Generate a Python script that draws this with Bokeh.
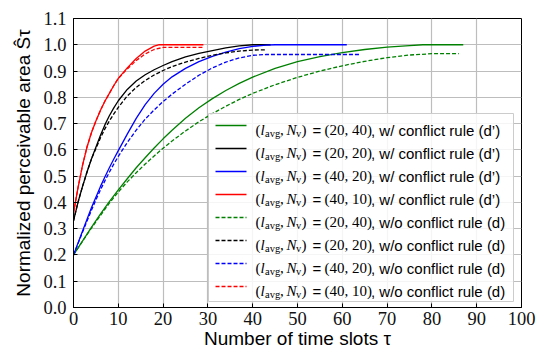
from bokeh.plotting import figure
from bokeh.models import Range1d, FixedTicker, NumeralTickFormatter, ColumnDataSource
from bokeh.core.properties import value
from bokeh.embed import file_html
from bokeh.resources import INLINE

# ---------------- data ----------------
x_ticks = [0, 10, 20, 30, 40, 50, 60, 70, 80, 90, 100]
y_ticks = [0.0, 0.1, 0.2, 0.3, 0.4, 0.5, 0.6, 0.7, 0.8, 0.9, 1.0, 1.1]

# (l_avg, N_v) = (20, 40)
tau_g_w = [0, 2, 4, 6, 8, 10, 12, 14, 16, 18, 20, 22, 25, 28, 31, 34, 37, 40, 45, 50, 55, 60, 65, 70, 75, 78, 87]
s_g_w = [0.2, 0.253, 0.305, 0.355, 0.403, 0.448, 0.49, 0.532, 0.57, 0.607, 0.642, 0.675, 0.72, 0.76, 0.795,
         0.826, 0.853, 0.877, 0.91, 0.936, 0.955, 0.97, 0.982, 0.991, 0.997, 1.0, 1.0]
tau_g_wo = [0, 2, 4, 6, 8, 10, 12, 14, 16, 18, 20, 22, 25, 28, 31, 34, 37, 40, 45, 50, 55, 60, 65, 70, 75, 80, 86]
s_g_wo = [0.2, 0.252, 0.302, 0.35, 0.397, 0.44, 0.478, 0.513, 0.546, 0.577, 0.606, 0.634, 0.672, 0.707, 0.738,
          0.766, 0.792, 0.815, 0.848, 0.876, 0.9, 0.92, 0.937, 0.951, 0.961, 0.966, 0.966]

# (l_avg, N_v) = (20, 20)
tau_k_w = [0, 1, 2, 3, 4, 5, 6, 7, 8, 9, 10, 12, 14, 16, 18, 20, 22, 25, 28, 31, 34, 37, 40, 44]
s_k_w = [0.33, 0.40, 0.46, 0.515, 0.565, 0.61, 0.655, 0.695, 0.73, 0.76, 0.787, 0.83, 0.862, 0.886, 0.905,
         0.921, 0.936, 0.954, 0.967, 0.978, 0.988, 0.996, 1.0, 1.0]
tau_k_wo = [0, 1, 2, 3, 4, 5, 6, 7, 8, 9, 10, 12, 14, 16, 18, 20, 22, 25, 28, 31, 34, 37, 40, 43]
s_k_wo = [0.33, 0.40, 0.46, 0.515, 0.565, 0.605, 0.645, 0.68, 0.71, 0.737, 0.762, 0.805, 0.838, 0.864, 0.885,
          0.902, 0.917, 0.934, 0.948, 0.96, 0.969, 0.976, 0.98, 0.981]

# (l_avg, N_v) = (40, 20)
tau_b_w = [0, 1, 2, 3, 4, 5, 6, 7, 8, 9, 10, 12, 14, 16, 18, 20, 22, 25, 28, 31, 34, 37, 40, 43, 45, 61]
s_b_w = [0.2, 0.245, 0.29, 0.335, 0.38, 0.42, 0.46, 0.497, 0.532, 0.565, 0.597, 0.66, 0.72, 0.772, 0.815,
         0.85, 0.878, 0.91, 0.936, 0.956, 0.972, 0.985, 0.994, 0.999, 1.0, 1.0]
tau_b_wo = [0, 1, 2, 3, 4, 5, 6, 7, 8, 9, 10, 12, 14, 16, 18, 20, 22, 25, 28, 31, 34, 37, 40, 43, 64]
s_b_wo = [0.2, 0.243, 0.286, 0.328, 0.37, 0.41, 0.447, 0.482, 0.515, 0.546, 0.575, 0.628, 0.675, 0.717, 0.752,
          0.784, 0.812, 0.85, 0.884, 0.912, 0.934, 0.95, 0.96, 0.963, 0.963]

# (l_avg, N_v) = (40, 10)
tau_r_w = [0, 1, 2, 3, 4, 5, 6, 7, 8, 9, 10, 12, 14, 16, 18, 19, 29]
s_r_w = [0.36, 0.455, 0.54, 0.61, 0.665, 0.71, 0.75, 0.785, 0.815, 0.845, 0.872, 0.912, 0.948, 0.976, 0.995, 1.0, 1.0]
tau_r_wo = [0, 1, 2, 3, 4, 5, 6, 7, 8, 9, 10, 12, 14, 16, 18, 20, 29]
s_r_wo = [0.36, 0.455, 0.54, 0.61, 0.665, 0.71, 0.75, 0.785, 0.815, 0.845, 0.872, 0.908, 0.94, 0.965, 0.982, 0.99, 0.99]

legend_pairs = ["(20, 40)", "(20, 20)", "(40, 20)", "(40, 10)", "(20, 40)", "(20, 20)", "(40, 20)", "(40, 10)"]
legend_rules = [", w/ conflict rule (d’)"] * 4 + [", w/o conflict rule (d)"] * 4

x_title = "Number of time slots τ"
y_title = "Normalized perceivable area Ŝτ"

series = [
    (tau_g_w, s_g_w, "#008000", "solid"),
    (tau_k_w, s_k_w, "#000000", "solid"),
    (tau_b_w, s_b_w, "#0000ff", "solid"),
    (tau_r_w, s_r_w, "#ff0000", "solid"),
    (tau_g_wo, s_g_wo, "#008000", "4 2"),
    (tau_k_wo, s_k_wo, "#000000", "4 2"),
    (tau_b_wo, s_b_wo, "#0000ff", "4 2"),
    (tau_r_wo, s_r_wo, "#ff0000", "4 2"),
]

# ---------------- layout ----------------
W, H = 539, 353
FL, FR, FT, FB = 73, 521, 18, 307  # frame edges in pixels
XMIN, XMAX, YMIN, YMAX = 0, 100, 0, 1.1


def dx(px):
    return XMIN + (px - FL) * (XMAX - XMIN) / (FR - FL)


def dy(py):
    return YMIN + (FB - py) * (YMAX - YMIN) / (FB - FT)


SANS = "Liberation Sans"
SERIF = "Liberation Serif"

p = figure(width=W, height=H, x_range=Range1d(XMIN, XMAX), y_range=Range1d(YMIN, YMAX),
           output_backend="svg", toolbar_location=None,
           min_border_left=FL, min_border_right=W - FR, min_border_top=FT, min_border_bottom=H - FB)
p.background_fill_color = "white"
p.border_fill_color = "white"
p.outline_line_color = "black"
p.outline_line_width = 1

p.xaxis.ticker = FixedTicker(ticks=x_ticks)
p.yaxis.ticker = FixedTicker(ticks=y_ticks)
p.yaxis.formatter = NumeralTickFormatter(format="0.0")
for ax in (p.xaxis, p.yaxis):
    ax.axis_line_color = "black"
    ax.major_tick_line_color = "black"
    ax.major_tick_in = 4
    ax.major_tick_out = 0
    ax.minor_tick_line_color = None
    ax.major_label_text_font = SERIF
    ax.major_label_text_font_size = "18.5px"
    ax.major_label_text_color = "#111111"
    ax.axis_label_text_font = SANS
    ax.axis_label_text_font_size = "19px"
    ax.axis_label_text_font_style = "normal"
    ax.axis_label_text_color = "black"
p.xaxis.major_label_standoff = 4
p.yaxis.major_label_standoff = 7
p.xaxis.axis_label = x_title
p.yaxis.axis_label = y_title
p.xaxis.axis_label_standoff = 0
p.yaxis.axis_label_standoff = 6

p.grid.grid_line_color = "#bdbdbd"
p.grid.grid_line_width = 1.2

for t, s, c, d in series:
    p.line(t, s, line_color=c, line_width=1.3, line_dash=d)

# ---------------- legend (drawn by hand for the sub-scripted math) ----------------
p.quad(left=dx(208), right=dx(513), top=dy(113), bottom=dy(301),
       fill_color="white", fill_alpha=0.85, line_color="#cccccc", line_width=1)

row_y = [125 + 23 * i for i in range(8)]
for (t, s, c, d), yc in zip(series, row_y):
    p.line([dx(215), dx(246)], [dy(yc), dy(yc)], line_color=c, line_width=1.3, line_dash=d)

tx0 = 255
main_seg = dict(x=[], y=[], text=[])
ital_seg = dict(x=[], y=[], text=[])
sub_seg = dict(x=[], y=[], text=[])
sans_seg = dict(x=[], y=[], text=[])
for pair, rule, yc in zip(legend_pairs, legend_rules, row_y):
    base = yc + 4.5
    sub = yc + 7.5
    for txt, off in (("(", 0), (",", 24.5), (")", 46.0), (pair, 69.0)):
        main_seg["x"].append(dx(tx0 + off)); main_seg["y"].append(dy(base)); main_seg["text"].append(txt)
    for txt, off in (("l", 5.0), ("N", 31.0)):
        ital_seg["x"].append(dx(tx0 + off)); ital_seg["y"].append(dy(base)); ital_seg["text"].append(txt)
    for txt, off in (("avg", 9.5), ("v", 40.5)):
        sub_seg["x"].append(dx(tx0 + off)); sub_seg["y"].append(dy(sub)); sub_seg["text"].append(txt)
    for txt, off in (("=", 57.0), (rule, 115.5)):
        sans_seg["x"].append(dx(tx0 + off)); sans_seg["y"].append(dy(base)); sans_seg["text"].append(txt)

p.text(x="x", y="y", text="text", source=ColumnDataSource(main_seg), text_font=value(SERIF),
       text_font_size="15px", text_baseline="alphabetic", text_align="left", text_color="black")
p.text(x="x", y="y", text="text", source=ColumnDataSource(ital_seg), text_font=value(SERIF),
       text_font_style="italic", text_font_size="15px", text_baseline="alphabetic", text_align="left",
       text_color="black")
p.text(x="x", y="y", text="text", source=ColumnDataSource(sub_seg), text_font=value(SERIF),
       text_font_size="10.5px", text_baseline="alphabetic", text_align="left", text_color="black")
p.text(x="x", y="y", text="text", source=ColumnDataSource(sans_seg), text_font=value(SANS),
       text_font_size="15px", text_baseline="alphabetic", text_align="left", text_color="black")

open("out.html", "w").write(file_html(p, INLINE))
